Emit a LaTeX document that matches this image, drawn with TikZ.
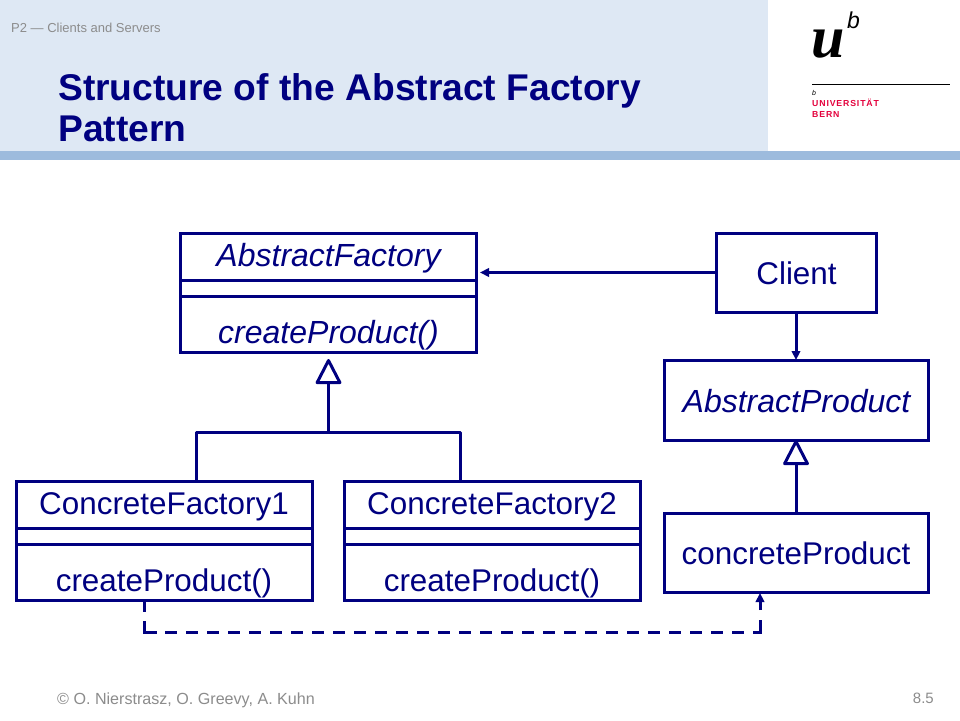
\documentclass[tikz,border=0pt]{standalone}
\usepackage{fontspec}
\setmainfont{Liberation Sans}
\newfontfamily\serifbf{Liberation Serif}
\usetikzlibrary{arrows.meta}
\definecolor{navy}{HTML}{000080}
\definecolor{headbg}{HTML}{DEE8F4}
\definecolor{headbar}{HTML}{9DBBDD}
\definecolor{unired}{HTML}{E4003C}
\definecolor{foot}{HTML}{8C8C8C}
\tikzset{
  x=1pt,y=-1pt,
  classbox/.style={draw=navy,line width=3pt,minimum width=#1,inner sep=0pt,outer sep=0pt,anchor=north west},
  classtext/.style={text=navy,font=\fontsize{31.4}{34}\selectfont,inner sep=0pt,anchor=base},
  abstracttext/.style={text=navy,font=\fontsize{32}{34}\selectfont\itshape,inner sep=0pt,anchor=base},
  link/.style={draw=navy,line width=3pt},
  assoc/.style={link,-{Triangle[length=9pt,width=8.5pt,fill=navy]}},
  inherit/.style={link,-{Triangle[open,length=27pt,width=27pt,line width=3pt,fill=white,round=false]}},
  dashlink/.style={link,dash pattern=on 12pt off 9pt},
}
\begin{document}
\begin{tikzpicture}
\useasboundingbox (0,0) rectangle (960,720);
\fill[white] (0,0) rectangle (960,720);
\fill[headbg] (0,0) rectangle (768,151);
\fill[headbar] (0,151) rectangle (960,160);
\node[anchor=base west,inner sep=0pt,text=foot,font=\fontsize{13}{15}\selectfont] (section) at (11,32) {P2 — Clients and Servers};
\node[anchor=base west,inner sep=0pt,text=navy,font=\fontsize{37.2}{41}\selectfont\bfseries,align=left] (title) at (58,141) {Structure of the Abstract Factory\\Pattern};
% logo
\node[anchor=base west,inner sep=0pt,font=\fontsize{60}{60}\selectfont\serifbf\bfseries\itshape] (logou) at (811,57) {u};
\node[anchor=base west,inner sep=0pt,font=\fontsize{23}{23}\selectfont\itshape] (logob) at (847,28) {b};
\draw[black,line width=1.3pt] (812,84.5) -- (950,84.5);
\node[anchor=base west,inner sep=0pt,font=\fontsize{7}{7}\selectfont\itshape] (logob2) at (812,95) {b};
\node[anchor=base west,inner sep=0pt,text=unired,font=\fontsize{8.7}{11}\selectfont\bfseries\addfontfeature{LetterSpace=10},align=left] (logotext) at (812,117) {UNIVERSITÄT\\BERN};
% classes
\node[classbox=296pt,minimum height=119pt] (af) at (180,233) {};
\draw[link] (180,280) -- (476,280) (180,296) -- (476,296);
\node[abstracttext] (aft) at (328.5,266) {AbstractFactory};
\node[abstracttext] (afm) at (328.5,343) {createProduct()};
\node[classbox=160pt,minimum height=79pt] (client) at (716,233) {};
\node[classtext] (clientt) at (796.5,284) {Client};
\node[classbox=264pt,minimum height=80pt] (ap) at (664,360) {};
\node[abstracttext] (apt) at (796.5,412) {AbstractProduct};
\node[classbox=264pt,minimum height=79pt] (cp) at (664,513) {};
\node[classtext] (cpt) at (796,564) {concreteProduct};
\node[classbox=296pt,minimum height=119pt] (cf1) at (16,481) {};
\draw[link] (16,528) -- (312,528) (16,544) -- (312,544);
\node[classtext] (cf1t) at (164,514) {ConcreteFactory1};
\node[classtext] (cf1m) at (164,591) {createProduct()};
\node[classbox=296pt,minimum height=119pt] (cf2) at (344,481) {};
\draw[link] (344,528) -- (640,528) (344,544) -- (640,544);
\node[classtext] (cf2t) at (492,514) {ConcreteFactory2};
\node[classtext] (cf2m) at (492,591) {createProduct()};
% connectors
\coordinate (hub) at (328.5,432);
\coordinate (cf1up) at (196,481);
\coordinate (cf2up) at (460,481);
\coordinate (aftip) at (328.5,359);
\coordinate (aphit) at (480,272.5);
\coordinate (dash1) at (144,600);
\coordinate (dash2) at (760,593);
\draw[inherit] (hub) -- (aftip);
\draw[link,line cap=round,line join=round] (cf1up) |- (hub) -| (cf2up);
\draw[assoc] (client.west) -- (client.west -| aphit);
\draw[assoc] (client.south) -- (ap.north);
\draw[inherit] (cp.north) -- (ap.south);
\draw[link,dash pattern=on 12pt off 9pt on 100pt off 1pt] (dash1) -- (144,632) -- (157,632);
\draw[dashlink] (165,632) -- (745,632);
\draw[link] (753,632) -- (760,632) -- (760,620);
\draw[assoc] (760,610) -- (dash2);
% footer
\node[anchor=base west,inner sep=0pt,text=foot,font=\fontsize{16.1}{18}\selectfont] (copy) at (57,704) {© O. Nierstrasz, O. Greevy, A. Kuhn};
\node[anchor=base east,inner sep=0pt,text=foot,font=\fontsize{15}{16}\selectfont] (page) at (934,703) {8.5};
\end{tikzpicture}
\end{document}
